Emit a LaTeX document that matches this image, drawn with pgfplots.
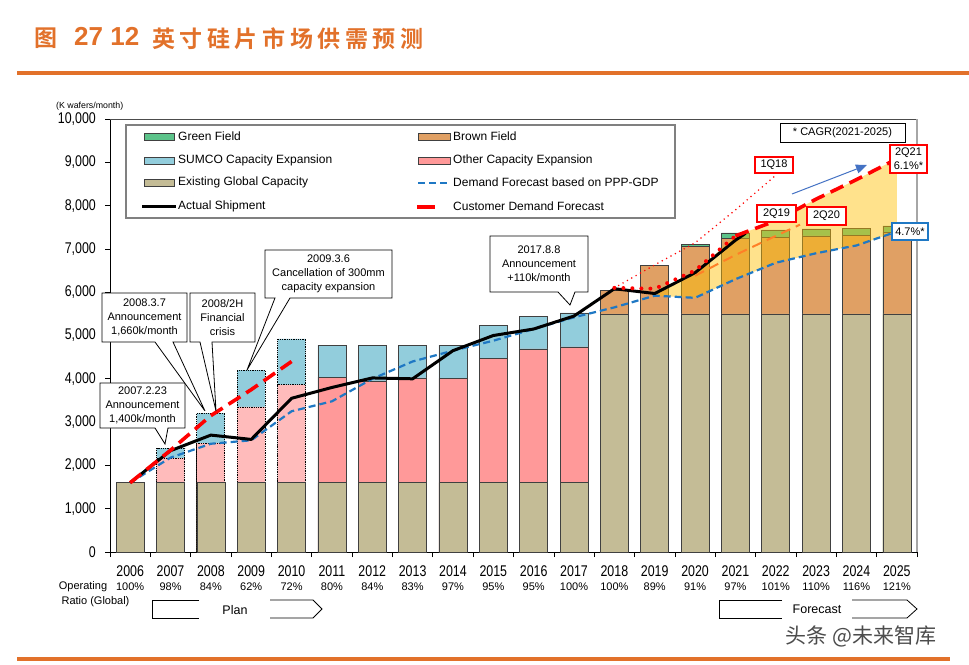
\documentclass[border=0pt]{standalone}
\usepackage{pgfplots}
\pgfplotsset{compat=1.18}
\usepackage{fontspec}
\setmainfont{Liberation Sans}
\newfontfamily\narrowf{Liberation Sans}[FakeStretch=0.8]
\newfontfamily\cjk{Noto Sans CJK SC}[BoldFont={* Bold}]
\usetikzlibrary{arrows.meta}
\definecolor{tanc}{HTML}{C4BC96}
\definecolor{pinkc}{HTML}{FF9999}
\definecolor{pinkl}{HTML}{FFBBBB}
\definecolor{sumco}{HTML}{92CDDC}
\definecolor{brownc}{HTML}{E0A064}
\definecolor{greenc}{HTML}{5CC38A}
\definecolor{edge}{HTML}{404040}
\definecolor{dblue}{HTML}{1F78C4}
\definecolor{orangel}{HTML}{FF7F27}
\definecolor{yellowf}{HTML}{FFC000}
\definecolor{titleor}{HTML}{E2712A}
\definecolor{arrowb}{HTML}{4472C4}
\newcommand\yf{\narrowf\fontsize{15.5bp}{14.5bp}\selectfont}
\newcommand\rf{\normalfont\fontsize{11bp}{13bp}\selectfont}
\newcommand\annf{\fontsize{11bp}{14bp}\selectfont}
\newcommand\legf{\fontsize{12bp}{14bp}\selectfont}
\begin{document}
\begin{tikzpicture}
\useasboundingbox (0,0) rectangle (969bp,-665bp);
\fill[white] (0,0) rectangle (969bp,-665bp);
\begin{axis}[
  at={(110bp,-552bp)}, anchor=south west, scale only axis,
  width=807bp, height=433bp,
  xmin=-0.5, xmax=19.5, ymin=0, ymax=10000,
  axis x line*=bottom, axis y line*=left,
  axis line style={-, black, line width=0.9bp},
  tick align=outside, major tick length=5bp,
  tick style={black, line width=0.7bp},
  xtick={-0.5,0.5,...,19.5},
  xticklabels={{2006\\{\rf 100\%}},{2007\\{\rf 98\%}},{2008\\{\rf 84\%}},{2009\\{\rf 62\%}},{2010\\{\rf 72\%}},{2011\\{\rf 80\%}},{2012\\{\rf 84\%}},{2013\\{\rf 83\%}},{2014\\{\rf 97\%}},{2015\\{\rf 95\%}},{2016\\{\rf 95\%}},{2017\\{\rf 100\%}},{2018\\{\rf 100\%}},{2019\\{\rf 89\%}},{2020\\{\rf 91\%}},{2021\\{\rf 97\%}},{2022\\{\rf 101\%}},{2023\\{\rf 110\%}},{2024\\{\rf 116\%}},{2025\\{\rf 121\%}},{}},
  xticklabel style={font=\yf, align=center, inner sep=0pt, xshift=20.175bp, yshift=-8bp, anchor=north},
  ytick={0,1000,...,10000},
  yticklabel style={font=\yf, inner sep=0pt, anchor=east, xshift=-9bp, /pgf/number format/1000 sep={,}},
  scaled y ticks=false,
  /pgf/number format/assume math mode=true,
  clip=false,
]
% ---- bars (cumulative tops, overlaid from top segment down) ----
\addplot[ybar, bar width=28bp, bar shift=0pt, fill=sumco, draw=edge, line width=0.6bp]
  coordinates {(5,4780)(6,4780)(7,4780)(8,4780)(9,5240)(10,5450)(11,5520)};
\addplot[ybar, bar width=28bp, bar shift=0pt, fill=sumco, draw=black, densely dotted, line width=0.8bp]
  coordinates {(1,2400)(2,3210)(3,4200)(4,4920)};
\addplot[ybar, bar width=28bp, bar shift=0pt, fill=pinkc, draw=edge, line width=0.6bp]
  coordinates {(5,4040)(6,3950)(7,4020)(8,4010)(9,4480)(10,4690)(11,4735)};
\addplot[ybar, bar width=28bp, bar shift=0pt, fill=pinkl, draw=black, densely dotted, line width=0.8bp]
  coordinates {(1,2170)(2,2515)(3,3350)(4,3860)};
\addplot[ybar, bar width=28bp, bar shift=0pt, fill=greenc, draw=edge, line width=0.6bp]
  coordinates {(14,7100)(15,7370)(16,7440)(17,7460)(18,7470)(19,7530)};
\addplot[ybar, bar width=28bp, bar shift=0pt, fill=brownc, draw=edge, line width=0.6bp]
  coordinates {(12,6050)(13,6625)(14,7060)(15,7250)(16,7270)(17,7300)(18,7320)(19,7380)};
\addplot[ybar, bar width=28bp, bar shift=0pt, fill=tanc, draw=edge, line width=0.6bp]
  coordinates {(0,1600)(1,1600)(2,1600)(3,1600)(4,1600)(5,1600)(6,1600)(7,1600)(8,1600)(9,1600)(10,1600)(11,1600)
               (12,5500)(13,5500)(14,5500)(15,5500)(16,5500)(17,5500)(18,5500)(19,5500)};
% ---- forecast band ----
\addplot[fill=yellowf, fill opacity=0.45, draw=none]
  coordinates {(13,5970)(14,6450)(15,7300)(16,7650)(17,8150)(18,8600)(19,9080)
               (19,7400)(18,7080)(17,6900)(16,6680)(15,6300)(14,5870)(13,5920)};
% ---- Demand Forecast based on PPP-GDP ----
\addplot[color=dblue, line width=2.2bp, dash pattern=on 7bp off 4bp]
  coordinates {(0,1600)(1,2180)(2,2500)(3,2580)(4,3250)(5,3480)(6,4000)(7,4400)(8,4650)(9,4880)
               (10,5150)(11,5420)(12,5650)(13,5920)(14,5870)(15,6300)(16,6680)(17,6900)(18,7080)(19,7400)};
% ---- Actual Shipment ----
\addplot[color=black, line width=3bp, line join=round]
  coordinates {(0,1600)(1,2340)(2,2700)(3,2600)(4,3550)(5,3800)(6,4020)(7,4000)(8,4650)(9,5000)
               (10,5150)(11,5450)(12,6080)(13,5970)(14,6450)(15,7200)(15.25,7360)};
% ---- 2Q20 ----
\addplot[color=orangel, line width=2bp, dash pattern=on 10bp off 6bp]
  coordinates {(14,6380)(15,6860)(16,7300)(16.6,7560)};
% ---- 1Q18 ----
\addplot[color=red, line width=1.7bp, line cap=round, dash pattern=on 0pt off 5bp]
  coordinates {(12,6100)(13,6630)(14,7140)(15,7900)(16,8700)};
% ---- 2Q19 ----
\addplot[color=red, line width=4bp, line cap=round, dash pattern=on 0pt off 9bp]
  coordinates {(12,6100)(13,6080)(14,6500)(15,7300)};
% ---- Customer Demand Forecast ----
\addplot[color=red, line width=3.6bp, dash pattern=on 14bp off 7bp]
  coordinates {(0,1600)(1,2350)(2,3150)(3,3750)(4,4400)};
\addplot[color=red, line width=3.6bp, dash pattern=on 14bp off 7bp]
  coordinates {(15,7300)(16,7650)(17,8150)(18,8600)(19,9080)};
% frame top/right
\draw[color=black!70, line width=1bp] (rel axis cs:0,1) -- (rel axis cs:1,1);
\draw[color=black!35, line width=1.5bp] (rel axis cs:1,1) -- (rel axis cs:1,0);
\end{axis}

\begin{scope}[x=1bp,y=-1bp]
% title
\node[anchor=west, inner sep=0pt, text=titleor, font=\cjk\bfseries\fontsize{23bp}{23bp}\selectfont] at (34,38.5) {图};
\node[anchor=west, inner sep=0pt, text=titleor, font=\bfseries\fontsize{26bp}{26bp}\selectfont] at (74,36.5) {27 12};
\node[anchor=west, inner sep=0pt, text=titleor, font=\cjk\bfseries\fontsize{23bp}{23bp}\selectfont\addfontfeature{LetterSpace=20}] at (152,38.5) {英寸硅片市场供需预测};
\draw[color=titleor, line width=4bp] (17,73) -- (969,73);
\draw[color=titleor, line width=4bp] (17,659) -- (950,659);
% unit
\node[anchor=west, inner sep=0pt, font=\fontsize{8.8bp}{10bp}\selectfont] at (56,106) {(K wafers/month)};
% operating ratio caption
\node[inner sep=0pt, font=\fontsize{11bp}{13bp}\selectfont] at (83,587) {Operating};
\node[inner sep=0pt, font=\fontsize{11bp}{13bp}\selectfont] at (95.5,602) {Ratio (Global)};
% plan / forecast arrows
\draw[line width=0.8bp] (199,600) -- (152,600) -- (152,618) -- (199,618);
\draw[line width=0.8bp] (270,600) -- (313,600) -- (322,609) -- (313,618) -- (270,618);
\node[inner sep=0pt, font=\fontsize{12.5bp}{14bp}\selectfont] at (235,610) {Plan};
\draw[line width=0.8bp] (782,600) -- (719,600) -- (719,618) -- (782,618);
\draw[line width=0.8bp] (852,600) -- (907,600) -- (917,609) -- (907,618) -- (852,618);
\node[inner sep=0pt, font=\fontsize{12.5bp}{14bp}\selectfont] at (817,609) {Forecast};
% legend
\draw[color=black!50, fill=white, line width=1.5bp] (126,125) rectangle (675,218);
\draw[fill=greenc, draw=edge, line width=0.6bp] (144,133.5) rectangle (174,140);
\draw[fill=sumco, draw=edge, line width=0.6bp] (144,157.5) rectangle (174,164);
\draw[fill=tanc, draw=edge, line width=0.6bp] (144,179.5) rectangle (174,186);
\draw[color=black, line width=3.5bp] (142,206.7) -- (176,206.7);
\draw[fill=brownc, draw=edge, line width=0.6bp] (418,133.5) rectangle (450,140);
\draw[fill=pinkc, draw=edge, line width=0.6bp] (418,157.5) rectangle (450,164);
\draw[color=dblue, line width=2.2bp, dash pattern=on 7bp off 4bp] (418,182.7) -- (451,182.7);
\draw[color=red, line width=3.6bp] (417,206.7) -- (435,206.7);
\node[anchor=west, inner sep=0pt, font=\legf] at (178,136.7) {Green Field};
\node[anchor=west, inner sep=0pt, font=\legf] at (178,160.7) {SUMCO Capacity Expansion};
\node[anchor=west, inner sep=0pt, font=\legf] at (178,182.7) {Existing Global Capacity};
\node[anchor=west, inner sep=0pt, font=\legf] at (178,206.7) {Actual Shipment};
\node[anchor=west, inner sep=0pt, font=\legf] at (453,136.7) {Brown Field};
\node[anchor=west, inner sep=0pt, font=\legf] at (453,160.7) {Other Capacity Expansion};
\node[anchor=west, inner sep=0pt, font=\legf] at (453,182.7) {Demand Forecast based on PPP-GDP};
\node[anchor=west, inner sep=0pt, font=\legf] at (453,206.7) {Customer Demand Forecast};
% callouts
\draw[fill=white, line width=0.8bp] (100,383) -- (185,383) -- (185,428) -- (168,428) -- (165,444) -- (155,428) -- (100,428) -- cycle;
\node[align=center, inner sep=0pt, font=\annf] at (142.5,405.5) {2007.2.23\\Announcement\\1,400k/month};
\draw[fill=white, line width=0.8bp] (102,293) -- (187,293) -- (187,342) -- (173,342) -- (205,411) -- (155,342) -- (102,342) -- cycle;
\node[align=center, inner sep=0pt, font=\annf] at (144.5,317.5) {2008.3.7\\Announcement\\1,660k/month};
\draw[fill=white, line width=0.8bp] (190,293) -- (255,293) -- (255,342) -- (212,342) -- (216,411) -- (200,342) -- (190,342) -- cycle;
\node[align=center, inner sep=0pt, font=\annf] at (222.5,317.5) {2008/2H\\Financial\\crisis};
\draw[fill=white, line width=0.8bp] (265,250) -- (392,250) -- (392,298) -- (290,298) -- (247,370) -- (275,298) -- (265,298) -- cycle;
\node[align=center, inner sep=0pt, font=\annf] at (328.5,274) {2009.3.6\\Cancellation of 300mm\\capacity expansion};
\draw[fill=white, line width=0.8bp] (490,236) -- (588,236) -- (588,292) -- (575,292) -- (570,305) -- (558,292) -- (490,292) -- cycle;
\node[align=center, inner sep=0pt, font=\annf] at (539,264) {2017.8.8\\Announcement\\+110k/month};
% forecast labels
\draw[fill=white, line width=1bp] (780,123) rectangle (905,142);
\node[inner sep=0pt, font=\annf] at (842.5,132.5) {* CAGR(2021-2025)};
\draw[fill=white, draw=red, line width=1.5bp] (755,157) rectangle (793,173);
\node[inner sep=0pt, font=\annf] at (774,165) {1Q18};
\draw[fill=white, draw=red, line width=1.5bp] (757,205) rectangle (796,222);
\node[inner sep=0pt, font=\annf] at (776.5,213.5) {2Q19};
\draw[fill=white, draw=red, line width=1.5bp] (807,207) rectangle (846,225);
\node[inner sep=0pt, font=\annf] at (826.5,216) {2Q20};
\draw[fill=white, draw=red, line width=1.5bp] (890,145) rectangle (927,173);
\node[align=center, inner sep=0pt, font=\annf] at (908.5,159) {2Q21\\6.1\%*};
\draw[fill=white, draw=dblue, line width=1.5bp] (892,223) rectangle (928,240);
\node[inner sep=0pt, font=\annf] at (910,231.5) {4.7\%*};
\draw[color=arrowb, line width=1bp, -{Triangle[length=11bp,width=9bp]}] (792,194) -- (867,165);
% watermark
\node[inner sep=0pt, text=black!70, font=\cjk\fontsize{21bp}{21bp}\selectfont] at (861,636) {头条 @未来智库};
\end{scope}
\end{tikzpicture}
\end{document}
